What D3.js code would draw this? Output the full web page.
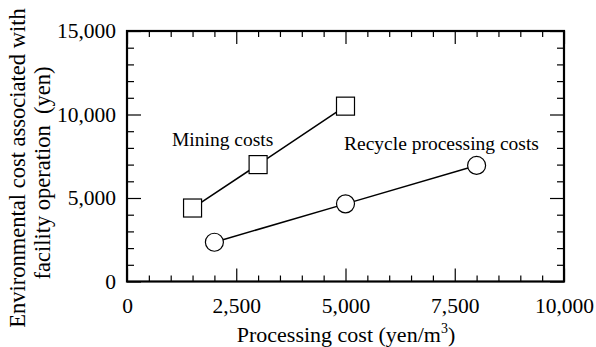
<!DOCTYPE html>
<html>
<head>
<meta charset="utf-8">
<script src="https://cdn.jsdelivr.net/npm/d3@7"></script>
<style>
  body { margin: 0; background: #fff; }
  svg { display: block; font-family: "Liberation Serif", "Times New Roman", serif; }
  .tick text { font-family: "Liberation Serif", "Times New Roman", serif; font-size: 21.5px; fill: #000; }
</style>
</head>
<body>
<svg id="chart" width="596" height="347"></svg>
<script>
// data
var miningX = [1500, 3000, 5000];
var miningY = [4400, 7000, 10500];
var recycleX = [2000, 5000, 8000];
var recycleY = [2350, 4650, 6950];
var xMajor = [0, 2500, 5000, 7500, 10000];
var yMajor = [0, 5000, 10000, 15000];

var plotL = 127, plotR = 564, plotT = 31, plotB = 281.5;

var svg = d3.select("#chart");

var x = d3.scaleLinear().domain([0, 10000]).range([plotL, plotR]);
var y = d3.scaleLinear().domain([0, 15000]).range([plotB, plotT]);

var xMinor = d3.range(0, 10001, 500).filter(function (d) { return d % 2500 != 0; });
var yMinor = d3.range(0, 15001, 1000).filter(function (d) { return d % 5000 != 0; });

function clean(g) {
  g.attr("font-family", null).attr("font-size", null);
  g.select(".domain").remove();
  g.selectAll(".tick line").attr("stroke", "#000").attr("stroke-width", 1.2);
}

// bottom
svg.append("g").attr("transform", "translate(0," + plotB + ")")
  .call(d3.axisBottom(x).tickValues(xMajor).tickSize(-13).tickPadding(16).tickFormat(d3.format(",")))
  .call(clean);
svg.append("g").attr("transform", "translate(0," + plotB + ")")
  .call(d3.axisBottom(x).tickValues(xMinor).tickSize(-6).tickFormat(""))
  .call(clean);
// top
svg.append("g").attr("transform", "translate(0," + plotT + ")")
  .call(d3.axisTop(x).tickValues(xMajor).tickSize(-13).tickFormat(""))
  .call(clean);
svg.append("g").attr("transform", "translate(0," + plotT + ")")
  .call(d3.axisTop(x).tickValues(xMinor).tickSize(-6).tickFormat(""))
  .call(clean);
// left
svg.append("g").attr("transform", "translate(" + plotL + ",0)")
  .call(d3.axisLeft(y).tickValues(yMajor).tickSize(-14).tickPadding(11).tickFormat(d3.format(",")))
  .call(clean);
svg.append("g").attr("transform", "translate(" + plotL + ",0)")
  .call(d3.axisLeft(y).tickValues(yMinor).tickSize(-7).tickFormat(""))
  .call(clean);
// right
svg.append("g").attr("transform", "translate(" + plotR + ",0)")
  .call(d3.axisRight(y).tickValues(yMajor).tickSize(-14).tickFormat(""))
  .call(clean);
svg.append("g").attr("transform", "translate(" + plotR + ",0)")
  .call(d3.axisRight(y).tickValues(yMinor).tickSize(-7).tickFormat(""))
  .call(clean);

// frame
svg.append("rect")
  .attr("x", plotL).attr("y", plotT)
  .attr("width", plotR - plotL).attr("height", plotB - plotT)
  .attr("fill", "none").attr("stroke", "#000").attr("stroke-width", 2.2);

var line = d3.line().x(function (d) { return x(d[0]); }).y(function (d) { return y(d[1]); });
var mining = d3.zip(miningX, miningY);
var recycle = d3.zip(recycleX, recycleY);

svg.append("path").datum(mining).attr("d", line)
  .attr("fill", "none").attr("stroke", "#000").attr("stroke-width", 1.5);
svg.append("path").datum(recycle).attr("d", line)
  .attr("fill", "none").attr("stroke", "#000").attr("stroke-width", 1.5);

svg.selectAll(".sq").data(mining).enter().append("rect")
  .attr("x", function (d) { return x(d[0]) - 9; })
  .attr("y", function (d) { return y(d[1]) - 9; })
  .attr("width", 18).attr("height", 18)
  .attr("fill", "#fff").attr("stroke", "#000").attr("stroke-width", 1.2);

svg.selectAll(".ci").data(recycle).enter().append("circle")
  .attr("cx", function (d) { return x(d[0]); })
  .attr("cy", function (d) { return y(d[1]); })
  .attr("r", 9)
  .attr("fill", "#fff").attr("stroke", "#000").attr("stroke-width", 1.2);

// series labels
svg.append("text").attr("x", 172).attr("y", 146)
  .style("font-size", "19.5px").text("Mining costs");
svg.append("text").attr("x", 344).attr("y", 150)
  .style("font-size", "19.5px").text("Recycle processing costs");

// axis titles
var xt = svg.append("text").attr("x", 346).attr("y", 341.5)
  .attr("text-anchor", "middle").style("font-size", "22px");
xt.append("tspan").text("Processing cost (yen/m");
xt.append("tspan").attr("dy", -9).style("font-size", "14px").text("3");
xt.append("tspan").attr("dy", 9).text(")");

svg.append("text")
  .attr("transform", "translate(25,168) rotate(-90)")
  .attr("text-anchor", "middle").style("font-size", "22.5px")
  .text("Environmental cost associated with");
svg.append("text")
  .attr("transform", "translate(50,173) rotate(-90)")
  .attr("text-anchor", "middle").style("font-size", "22.5px").style("white-space", "pre")
  .text("facility operation  (yen)");
</script>
</body>
</html>
